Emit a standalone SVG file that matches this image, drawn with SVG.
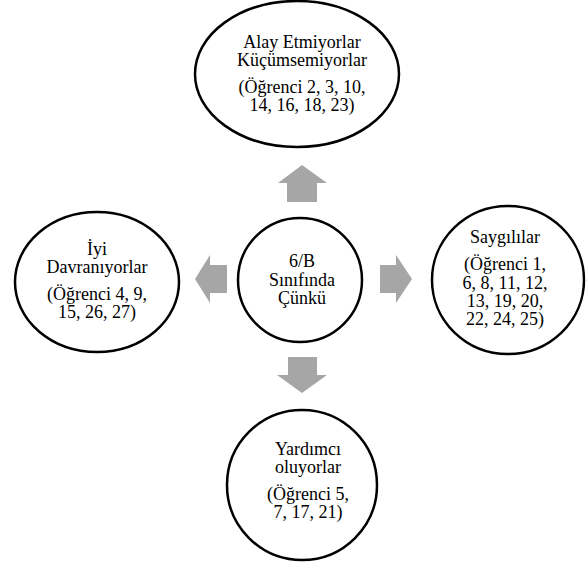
<svg xmlns="http://www.w3.org/2000/svg" width="586" height="562" viewBox="0 0 586 562">
<style>
.node{fill:#fff;stroke:#000;stroke-width:2.5}
.t{font-family:"Liberation Serif","Times New Roman",serif;font-size:18px;fill:#000;text-anchor:middle}
.arr{fill:#a6a6a6;stroke:none}
</style>
<rect width="586" height="562" fill="#fff"/>
<g id="connectors">
<polygon class="arr" points="287,202 317,202 317,183 327,183 302,165 278,183 287,183"/>
<polygon class="arr" points="227,265 227,293 210,293 210,303 195,279 210,255 210,265"/>
<polygon class="arr" points="380,265 380,293 396,293 396,303 412,279 396,255 396,265"/>
<polygon class="arr" points="288,357 317,357 317,375 327,375 302,393 277,375 288,375"/>
</g>
<g id="top">
<ellipse class="node" cx="297" cy="74" rx="102" ry="73"/>
<text class="t" x="302" y="48">Alay Etmiyorlar</text>
<text class="t" x="302" y="66">Küçümsemiyorlar</text>
<text class="t" x="302" y="93">(Öğrenci 2, 3, 10,</text>
<text class="t" x="302" y="111">14, 16, 18, 23)</text>
</g>
<g id="left">
<ellipse class="node" cx="97" cy="282" rx="82" ry="70"/>
<text class="t" x="97" y="255">İyi</text>
<text class="t" x="97" y="273">Davranıyorlar</text>
<text class="t" x="97" y="300">(Öğrenci 4, 9,</text>
<text class="t" x="97" y="318">15, 26, 27)</text>
</g>
<g id="center">
<ellipse class="node" cx="300" cy="280" rx="62" ry="62"/>
<text class="t" x="302" y="267">6/B</text>
<text class="t" x="302" y="286">Sınıfında</text>
<text class="t" x="302" y="304">Çünkü</text>
</g>
<g id="right">
<ellipse class="node" cx="508" cy="280" rx="76" ry="74"/>
<text class="t" x="505" y="243">Saygılılar</text>
<text class="t" x="505" y="270">(Öğrenci 1,</text>
<text class="t" x="505" y="289">6, 8, 11, 12,</text>
<text class="t" x="505" y="307">13, 19, 20,</text>
<text class="t" x="505" y="325">22, 24, 25)</text>
</g>
<g id="bottom">
<ellipse class="node" cx="302" cy="485" rx="75" ry="75"/>
<text class="t" x="308" y="455">Yardımcı</text>
<text class="t" x="308" y="473">oluyorlar</text>
<text class="t" x="308" y="500">(Öğrenci 5,</text>
<text class="t" x="308" y="518">7, 17, 21)</text>
</g>
</svg>
